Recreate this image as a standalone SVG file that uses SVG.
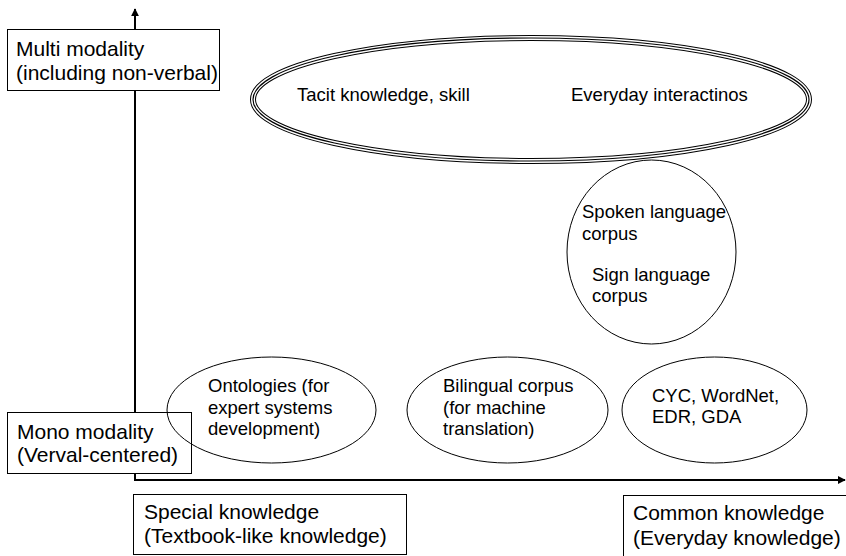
<svg xmlns="http://www.w3.org/2000/svg" width="846" height="556" viewBox="0 0 846 556">
  <style>
    text { font-family: "Liberation Sans", Arial, sans-serif; fill: #000; }
    .lbl { font-size: 21px; }
    .in { font-size: 18.5px; }
    .box { fill: #fff; stroke: #000; stroke-width: 1; }
    .ell { fill: none; stroke: #000; stroke-width: 1; }
    .axis { stroke: #000; stroke-width: 2; fill: none; }
  </style>
  <defs>
    <marker id="arrow" viewBox="0 0 10 10" refX="9" refY="5" markerWidth="4" markerHeight="4" orient="auto" markerUnits="strokeWidth">
      <path d="M0,0 L10,5 L0,10 Z" fill="#000"/>
    </marker>
  </defs>

  <!-- axes -->
  <g id="connectors">
    <path class="axis" d="M135,480 L135,9" marker-end="url(#arrow)"/>
    <path class="axis" d="M134,480 L845,480" marker-end="url(#arrow)"/>
  </g>

  <!-- axis labels -->
  <g id="multi-modality">
    <rect class="box" x="7.5" y="29.5" width="212" height="61"/>
    <text class="lbl" x="16" y="56">Multi modality</text>
    <text class="lbl" x="16" y="80">(including non-verbal)</text>
  </g>
  <g id="mono-modality">
    <rect class="box" x="7.5" y="412.5" width="184" height="61"/>
    <text class="lbl" x="17" y="439">Mono modality</text>
    <text class="lbl" x="17" y="462">(Verval-centered)</text>
  </g>
  <g id="special-knowledge">
    <rect class="box" x="133.5" y="494.5" width="273" height="60"/>
    <text class="lbl" x="144" y="519">Special knowledge</text>
    <text class="lbl" x="144" y="543">(Textbook-like knowledge)</text>
  </g>
  <g id="common-knowledge">
    <rect class="box" x="623.5" y="495.5" width="230" height="64"/>
    <text class="lbl" x="633" y="520">Common knowledge</text>
    <text class="lbl" x="633" y="545">(Everyday knowledge)</text>
  </g>

  <!-- knowledge resources -->
  <g id="tacit-everyday">
    <ellipse cx="531" cy="99.5" rx="278" ry="61.5" fill="none" stroke="#000" stroke-width="6"/>
    <ellipse cx="531" cy="99.5" rx="278" ry="61.5" fill="none" stroke="#fff" stroke-width="4"/>
    <ellipse cx="531" cy="99.5" rx="278" ry="61.5" fill="none" stroke="#000" stroke-width="1.2"/>
    <text class="in" x="297" y="101">Tacit knowledge, skill</text>
    <text class="in" x="571" y="101">Everyday interactinos</text>
  </g>
  <g id="speech-sign-corpus">
    <ellipse class="ell" cx="651.5" cy="252" rx="84.5" ry="92"/>
    <text class="in" x="582" y="218">Spoken language</text>
    <text class="in" x="582" y="240">corpus</text>
    <text class="in" x="592" y="281">Sign language</text>
    <text class="in" x="592" y="302">corpus</text>
  </g>
  <g id="ontologies">
    <ellipse class="ell" cx="271.5" cy="410" rx="104.5" ry="53"/>
    <text class="in" x="208" y="392">Ontologies (for</text>
    <text class="in" x="208" y="413.5">expert systems</text>
    <text class="in" x="208" y="435">development)</text>
  </g>
  <g id="bilingual-corpus">
    <ellipse class="ell" cx="507.5" cy="410" rx="100.5" ry="53"/>
    <text class="in" x="443" y="392">Bilingual corpus</text>
    <text class="in" x="443" y="413.5">(for machine</text>
    <text class="in" x="443" y="435">translation)</text>
  </g>
  <g id="common-sense-kbs">
    <ellipse class="ell" cx="714.5" cy="410" rx="92.5" ry="53"/>
    <text class="in" x="652" y="402">CYC, WordNet,</text>
    <text class="in" x="652" y="423">EDR, GDA</text>
  </g>
</svg>
